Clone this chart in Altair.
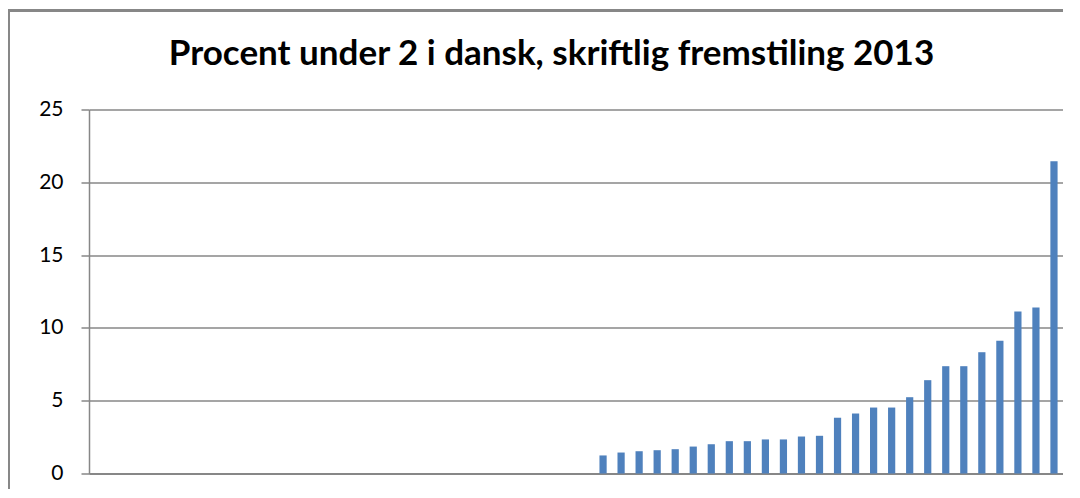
import altair as alt
import pandas as pd

categories = [str(i) for i in range(1, 55)]
values = [0] * 28 + [
    1.24, 1.44, 1.53, 1.60, 1.67, 1.85, 2.01, 2.22, 2.22, 2.34, 2.34, 2.54, 2.59,
    3.83, 4.12, 4.53, 4.53, 5.24, 6.41, 7.37, 7.37, 8.33, 9.11, 11.13, 11.40, 21.45,
]
y_ticks = [0, 5, 10, 15, 20, 25]
title_text = "Procent under 2 i dansk, skriftlig fremstiling 2013"

df = pd.DataFrame({"kategori": categories, "procent": values})

FONT = "Lato"
GRAY = "#878787"

bars = alt.Chart(df).mark_bar(color="#4f81bd").encode(
    x=alt.X(
        "kategori:N",
        sort=None,
        scale=alt.Scale(paddingInner=0.6, paddingOuter=0.3),
        axis=alt.Axis(labels=False, ticks=False, title=None, domainColor=GRAY,
                      domainWidth=2, grid=False),
    ),
    y=alt.Y(
        "procent:Q",
        scale=alt.Scale(domain=[0, 25], nice=False),
        axis=alt.Axis(values=y_ticks, title=None, grid=True, gridColor=GRAY,
                      gridWidth=1.5, domainColor=GRAY, domainWidth=1.5,
                      tickColor=GRAY, tickWidth=1.5, tickSize=8,
                      labelPadding=18, labelFont=FONT, labelFontSize=21,
                      labelColor="#000000"),
    ),
)

# chart-area frame (decorative)
frame_left = alt.Chart(df).mark_rule(color=GRAY, strokeWidth=2.5, clip=False).encode(
    x=alt.value(-81), y=alt.value(-99), y2=alt.value(400)
)
frame_top = alt.Chart(df).mark_rule(color=GRAY, strokeWidth=2.5, clip=False).encode(
    x=alt.value(-81), x2=alt.value(1000), y=alt.value(-99)
)

chart = alt.layer(frame_left, frame_top, bars).properties(
    width=974,
    height=364,
    autosize=alt.AutoSizeParams(type="none"),
    padding={"left": 81, "top": 101.5, "right": 0, "bottom": 15},
    title=alt.TitleParams(
        text=title_text, font=FONT, fontSize=35, fontWeight="bold",
        color="#000000", anchor="middle", dx=-24.5, dy=67,
    ),
).configure_view(stroke=None)

chart.save("out.html", embed_options={"renderer": "svg", "actions": False})
